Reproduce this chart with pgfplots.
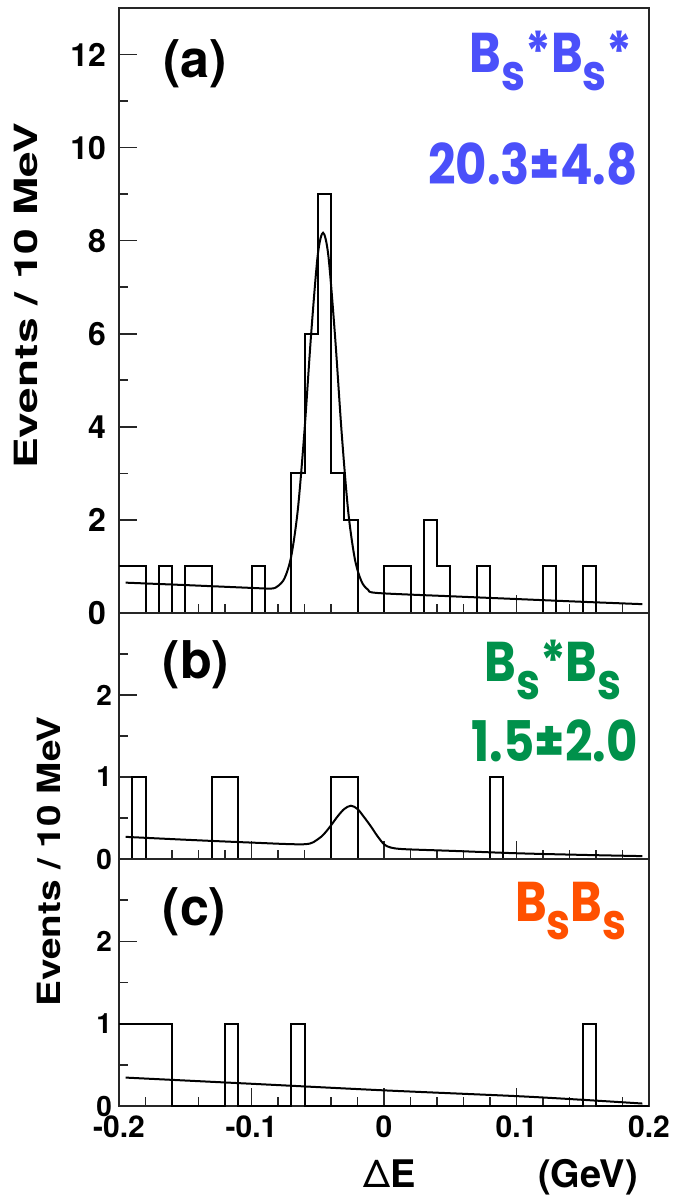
\documentclass[border=0pt]{standalone}
\usepackage{pgfplots}
\pgfplotsset{compat=1.18}
\usepackage{fontspec}
\setmainfont{TeX Gyre Heros}
\newfontfamily\comic{Poppins}

\definecolor{bsblue}{RGB}{75,80,250}
\definecolor{bsgreen}{RGB}{0,145,75}
\definecolor{bsorange}{RGB}{255,80,0}

\newcommand{\fs}[1]{\fontsize{#1}{#1}\selectfont}
\newcommand{\sub}{\raisebox{-0.32em}{\fs{25}s}}
\newcommand{\tag}[2]{\scalebox{0.86}[1]{\comic\bfseries\fs{28}\color{#1}#2}}

\pgfplotsset{
  panel/.style={
    scale only axis, width=265pt, anchor=south west,
    xmin=-0.2, xmax=0.2, ymin=0,
    axis line style={black!85, line width=1pt},
    tick style={black!85, line width=0.8pt},
    major tick length=9pt, minor tick length=4.5pt,
    tick align=inside, tick pos=left,
    xtick={-0.2,-0.1,0,0.1,0.2},
    minor xtick={-0.18,-0.16,-0.14,-0.12,-0.08,-0.06,-0.04,-0.02,0.02,0.04,0.06,0.08,0.12,0.14,0.16,0.18},
    /pgf/number format/assume math mode=true,
    tick label style={font=\bfseries\fs{16}},
  },
  hist/.style={const plot, black, line width=1pt},
  fit/.style={smooth, tension=0.5, black, line width=1pt},
}

\begin{document}
\begin{tikzpicture}
\path[use as bounding box] (0,0) rectangle (339.5pt,599.5pt);

% (a) Bs* Bs*
\begin{axis}[panel, at={(59.5pt,293pt)}, height=302.5pt, ymax=13,
  ytick={0,2,...,12}, minor ytick={1,3,...,11}, xticklabels={},
  yticklabel style={xshift=-3pt}]
\addplot[hist] coordinates {
  (-0.2,1) (-0.18,0) (-0.17,1) (-0.16,0) (-0.15,1) (-0.13,0) (-0.10,1) (-0.09,0)
  (-0.07,3) (-0.06,6) (-0.05,9) (-0.04,3) (-0.03,2) (-0.02,0) (0.0,1) (0.02,0)
  (0.03,2) (0.04,1) (0.05,0) (0.07,1) (0.08,0) (0.12,1) (0.13,0) (0.15,1) (0.16,0) (0.2,0)
};
\addplot[fit] coordinates {
  (-0.195,0.652) (-0.15,0.60) (-0.10,0.539) (-0.085,0.525) (-0.08,0.58) (-0.075,0.75)
  (-0.07,1.22) (-0.065,2.23) (-0.06,3.92) (-0.055,5.99) (-0.05,7.69) (-0.046,8.17)
  (-0.042,7.68) (-0.037,5.97) (-0.032,3.89) (-0.027,2.18) (-0.022,1.16) (-0.017,0.68)
  (-0.012,0.50) (-0.005,0.43) (0.05,0.36) (0.10,0.30) (0.15,0.24) (0.195,0.19)
};
\end{axis}

% (b) Bs* Bs
\begin{axis}[panel, at={(59.5pt,170pt)}, height=123pt, ymax=3,
  ytick={0,1,2}, minor ytick={0.5,1.5,2.5}, xticklabels={},
  yticklabel style={font=\bfseries\fs{14}}]
\addplot[hist] coordinates {
  (-0.2,0) (-0.19,1) (-0.18,0) (-0.13,1) (-0.11,0) (-0.04,1) (-0.02,0) (0.08,1) (0.09,0) (0.2,0)
};
\addplot[fit] coordinates {
  (-0.195,0.27) (-0.15,0.235) (-0.10,0.20) (-0.06,0.18) (-0.05,0.24) (-0.045,0.31)
  (-0.04,0.41) (-0.035,0.52) (-0.03,0.61) (-0.025,0.65) (-0.02,0.61) (-0.015,0.51)
  (-0.01,0.40) (-0.005,0.28) (0.0,0.18) (0.005,0.14) (0.015,0.12) (0.05,0.10)
  (0.10,0.07) (0.15,0.05) (0.195,0.035)
};
\end{axis}

% (c) Bs Bs
\begin{axis}[panel, at={(59.5pt,46.5pt)}, height=123.5pt, ymax=3,
  ytick={0,1,2}, minor ytick={0.5,1.5,2.5},
  yticklabel style={font=\bfseries\fs{14}},
  xticklabel style={font=\bfseries\fs{15}, yshift=-1.5pt}]
\addplot[hist] coordinates {
  (-0.2,1) (-0.16,0) (-0.12,1) (-0.11,0) (-0.07,1) (-0.06,0) (0.15,1) (0.16,0) (0.2,0)
};
\addplot[fit] coordinates {
  (-0.195,0.345) (-0.10,0.27) (0.0,0.19) (0.10,0.12) (0.15,0.075) (0.195,0.03)
};
\end{axis}

% panel letters
\node[font=\bfseries\fs{26}] at (97.5pt,567.75pt) {(a)};
\node[font=\bfseries\fs{26}] at (98pt,267pt) {(b)};
\node[font=\bfseries\fs{26}] at (97.25pt,143.75pt) {(c)};

% yields
\node[anchor=base east, inner sep=0pt] at (316.5pt,563pt) {\tag{bsblue}{B\sub*B\sub*}};
\node[anchor=base east, inner sep=0pt] at (319pt,507pt) {\tag{bsblue}{20.3±4.8}};
\node[anchor=base east, inner sep=0pt] at (311pt,258.5pt) {\tag{bsgreen}{B\sub*B\sub}};
\node[anchor=base east, inner sep=0pt] at (319pt,218.5pt) {\tag{bsgreen}{1.5±2.0}};
\node[anchor=base east, inner sep=0pt] at (313.5pt,138.5pt) {\tag{bsorange}{B\sub B\sub}};

% axis titles
\node[rotate=90, font=\bfseries\fs{16}, inner sep=0pt] at (13pt,451.5pt) {\scalebox{1.44}[1]{Events / 10 MeV}};
\node[rotate=90, font=\bfseries\fs{16}, inner sep=0pt] at (24.75pt,168.75pt) {\scalebox{1.21}[1]{Events / 10 MeV}};
\node[anchor=base, font=\bfseries\fs{19}, inner sep=0pt] at (195pt,5.5pt) {{\mdseries Δ}E};
\node[anchor=base, font=\bfseries\fs{19}, inner sep=0pt] at (294pt,5.5pt) {(GeV)};
\end{tikzpicture}
\end{document}
